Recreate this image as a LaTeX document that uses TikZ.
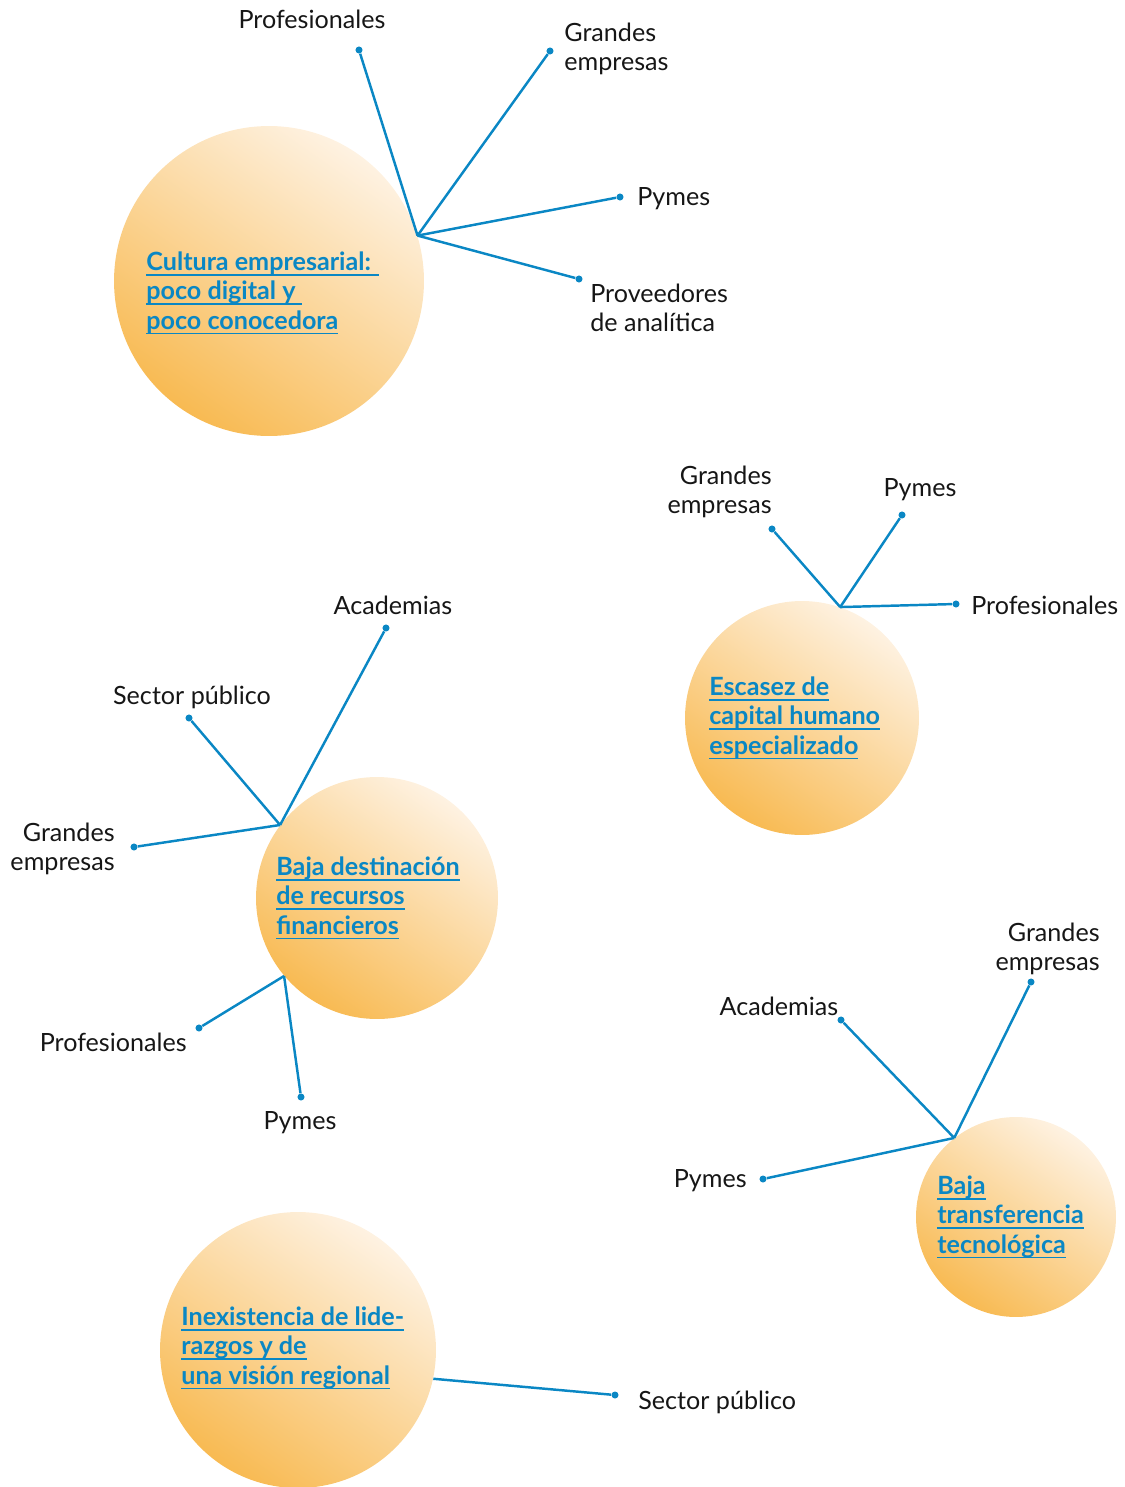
\documentclass[tikz,border=0pt]{standalone}
\usepackage{fontspec}
\setmainfont{Lato}
\usetikzlibrary{positioning}
\definecolor{linkblue}{HTML}{0A87C4}
\definecolor{inkblack}{HTML}{161616}
\definecolor{sunlight}{HTML}{FEF2E2}
\definecolor{sunorange}{HTML}{F8BA52}
% underline at a fixed depth below the baseline
\newcommand{\topicul}[1]{\setbox0\hbox{#1}\rlap{\rule[-2.8pt]{\wd0}{0.8pt}}\box0}
\tikzset{
  topic/.style={
    circle, inner sep=0pt, minimum size=#1,
    top color=sunlight, bottom color=sunorange, shading angle=-35
  },
  topictext/.style={
    anchor=west, inner sep=0pt, align=left, text=linkblue,
    font=\fontsize{14.3}{16.6}\selectfont\bfseries
  },
  leaf/.style={
    inner sep=0pt, text=inkblack, yshift=-1pt,
    font=\fontsize{14.3}{16.6}\selectfont
  },
  tipdot/.style={circle, fill=linkblue, inner sep=0pt, minimum size=4pt},
  spoke/.style={draw=linkblue, line width=1.4pt},
}

\begin{document}
\begin{tikzpicture}[x=0.02cm, y=-0.02cm]
  \useasboundingbox (0,0) rectangle (1125,1487);

  % topics
  \node[topic=6.2cm] (cult) at (269,281) {};
  \node[topic=4.68cm] (esc) at (802,718) {};
  \node[topic=4.84cm] (baja) at (377,898) {};
  \node[topic=4cm] (transf) at (1016,1217) {};
  \node[topic=5.52cm] (inex) at (298,1350) {};

  \node[topictext] (cult-t) at (146,293)
    {\topicul{Cultura empresarial: }\\\topicul{poco digital y }\\\topicul{poco conocedora}};
  \node[topictext] (esc-t) at (709,718)
    {\topicul{Escasez de}\\\topicul{capital humano}\\\topicul{especializado}};
  \node[topictext] (baja-t) at (276,898)
    {\topicul{Baja destinación}\\\topicul{de recursos}\\\topicul{financieros}};
  \node[topictext] (transf-t) at (937,1217)
    {\topicul{Baja}\\\topicul{transferencia}\\\topicul{tecnológica}};
  \node[topictext] (inex-t) at (181,1348)
    {\topicul{Inexistencia de lide-}\\\topicul{razgos y de}\\\topicul{una visión regional}};

  % cultura empresarial
  \node[tipdot] (c1) at (359,50) {};
  \node[tipdot] (c2) at (550,51) {};
  \node[tipdot] (c3) at (620,197) {};
  \node[tipdot] (c4) at (579,279) {};
  \node[leaf] at (312,18) {Profesionales};
  \node[leaf, anchor=west, align=left] at (564,47) {Grandes\\empresas};
  \node[leaf, anchor=west] at (637,197) {Pymes};
  \node[leaf, anchor=west, align=left] at (590,306) {Proveedores\\de analítica};
  \foreach \d in {c1,c2,c3,c4}
    \draw[spoke] (cult.17) -- (\d);

  % capital humano
  \node[tipdot] (e1) at (772,529) {};
  \node[tipdot] (e2) at (902,515) {};
  \node[tipdot] (e3) at (956,604) {};
  \node[leaf, anchor=east, align=right] at (772,490) {Grandes\\empresas};
  \node[leaf] at (920,488) {Pymes};
  \node[leaf, anchor=west] at (971,604) {Profesionales};
  \foreach \d in {e1,e2,e3}
    \draw[spoke] (esc.71) -- (\d);

  % recursos financieros
  \node[tipdot] (b1) at (386,628) {};
  \node[tipdot] (b2) at (189,718) {};
  \node[tipdot] (b3) at (134,847) {};
  \node[tipdot] (b4) at (199,1028) {};
  \node[tipdot] (b5) at (301,1097) {};
  \node[leaf] at (393,604) {Academias};
  \node[leaf] at (192,696) {Sector público};
  \node[leaf, anchor=east, align=right] at (115,847) {Grandes\\empresas};
  \node[leaf, anchor=east] at (187,1041) {Profesionales};
  \node[leaf] at (300,1121) {Pymes};
  \foreach \d in {b1,b2,b3}
    \draw[spoke] (baja.143) -- (\d);
  \foreach \d in {b4,b5}
    \draw[spoke] (baja.220) -- (\d);

  % transferencia
  \node[tipdot] (t1) at (841,1020) {};
  \node[tipdot] (t2) at (1031,982) {};
  \node[tipdot] (t3) at (763,1179) {};
  \node[leaf] at (779,1005) {Academias};
  \node[leaf, anchor=east, align=right] at (1100,947) {Grandes\\empresas};
  \node[leaf, anchor=east] at (747,1179) {Pymes};
  \foreach \d in {t1,t2,t3}
    \draw[spoke] (transf.128) -- (\d);

  % liderazgos
  \node[tipdot] (i1) at (615,1395) {};
  \node[leaf, anchor=west] at (638,1401) {Sector público};
  \draw[spoke] (inex.-12) -- (i1);
\end{tikzpicture}
\end{document}
